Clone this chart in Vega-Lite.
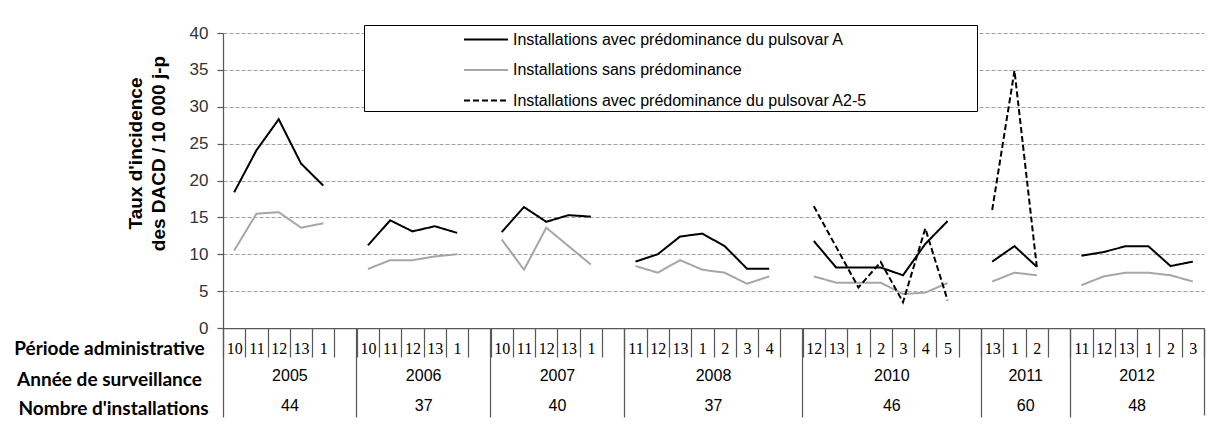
{
  "$schema": "https://vega.github.io/schema/vega-lite/v6.json",
  "width": 981,
  "height": 295,
  "autosize": {"type": "none"},
  "padding": {"left": 223, "top": 33, "right": 5, "bottom": 97},
  "background": "white",
  "config": {"view": {"stroke": null}, "font": "Liberation Sans"},
  "data": {"values": [
    {"i": 0, "annee": "2005", "serie": "Installations avec prédominance du pulsovar A", "taux": 18.4},
    {"i": 1, "annee": "2005", "serie": "Installations avec prédominance du pulsovar A", "taux": 24.1},
    {"i": 2, "annee": "2005", "serie": "Installations avec prédominance du pulsovar A", "taux": 28.3},
    {"i": 3, "annee": "2005", "serie": "Installations avec prédominance du pulsovar A", "taux": 22.3},
    {"i": 4, "annee": "2005", "serie": "Installations avec prédominance du pulsovar A", "taux": 19.3},
    {"i": 6, "annee": "2006", "serie": "Installations avec prédominance du pulsovar A", "taux": 11.2},
    {"i": 7, "annee": "2006", "serie": "Installations avec prédominance du pulsovar A", "taux": 14.6},
    {"i": 8, "annee": "2006", "serie": "Installations avec prédominance du pulsovar A", "taux": 13.1},
    {"i": 9, "annee": "2006", "serie": "Installations avec prédominance du pulsovar A", "taux": 13.8},
    {"i": 10, "annee": "2006", "serie": "Installations avec prédominance du pulsovar A", "taux": 12.9},
    {"i": 12, "annee": "2007", "serie": "Installations avec prédominance du pulsovar A", "taux": 13.0},
    {"i": 13, "annee": "2007", "serie": "Installations avec prédominance du pulsovar A", "taux": 16.4},
    {"i": 14, "annee": "2007", "serie": "Installations avec prédominance du pulsovar A", "taux": 14.4},
    {"i": 15, "annee": "2007", "serie": "Installations avec prédominance du pulsovar A", "taux": 15.3},
    {"i": 16, "annee": "2007", "serie": "Installations avec prédominance du pulsovar A", "taux": 15.1},
    {"i": 18, "annee": "2008", "serie": "Installations avec prédominance du pulsovar A", "taux": 9.0},
    {"i": 19, "annee": "2008", "serie": "Installations avec prédominance du pulsovar A", "taux": 10.0},
    {"i": 20, "annee": "2008", "serie": "Installations avec prédominance du pulsovar A", "taux": 12.4},
    {"i": 21, "annee": "2008", "serie": "Installations avec prédominance du pulsovar A", "taux": 12.8},
    {"i": 22, "annee": "2008", "serie": "Installations avec prédominance du pulsovar A", "taux": 11.1},
    {"i": 23, "annee": "2008", "serie": "Installations avec prédominance du pulsovar A", "taux": 8.05},
    {"i": 24, "annee": "2008", "serie": "Installations avec prédominance du pulsovar A", "taux": 8.05},
    {"i": 26, "annee": "2010", "serie": "Installations avec prédominance du pulsovar A", "taux": 11.8},
    {"i": 27, "annee": "2010", "serie": "Installations avec prédominance du pulsovar A", "taux": 8.2},
    {"i": 28, "annee": "2010", "serie": "Installations avec prédominance du pulsovar A", "taux": 8.2},
    {"i": 29, "annee": "2010", "serie": "Installations avec prédominance du pulsovar A", "taux": 8.2},
    {"i": 30, "annee": "2010", "serie": "Installations avec prédominance du pulsovar A", "taux": 7.15},
    {"i": 31, "annee": "2010", "serie": "Installations avec prédominance du pulsovar A", "taux": 11.4},
    {"i": 32, "annee": "2010", "serie": "Installations avec prédominance du pulsovar A", "taux": 14.5},
    {"i": 34, "annee": "2011", "serie": "Installations avec prédominance du pulsovar A", "taux": 9.0},
    {"i": 35, "annee": "2011", "serie": "Installations avec prédominance du pulsovar A", "taux": 11.1},
    {"i": 36, "annee": "2011", "serie": "Installations avec prédominance du pulsovar A", "taux": 8.3},
    {"i": 38, "annee": "2012", "serie": "Installations avec prédominance du pulsovar A", "taux": 9.8},
    {"i": 39, "annee": "2012", "serie": "Installations avec prédominance du pulsovar A", "taux": 10.3},
    {"i": 40, "annee": "2012", "serie": "Installations avec prédominance du pulsovar A", "taux": 11.1},
    {"i": 41, "annee": "2012", "serie": "Installations avec prédominance du pulsovar A", "taux": 11.1},
    {"i": 42, "annee": "2012", "serie": "Installations avec prédominance du pulsovar A", "taux": 8.4},
    {"i": 43, "annee": "2012", "serie": "Installations avec prédominance du pulsovar A", "taux": 9.0},
    {"i": 0, "annee": "2005", "serie": "Installations sans prédominance", "taux": 10.5},
    {"i": 1, "annee": "2005", "serie": "Installations sans prédominance", "taux": 15.5},
    {"i": 2, "annee": "2005", "serie": "Installations sans prédominance", "taux": 15.7},
    {"i": 3, "annee": "2005", "serie": "Installations sans prédominance", "taux": 13.6},
    {"i": 4, "annee": "2005", "serie": "Installations sans prédominance", "taux": 14.2},
    {"i": 6, "annee": "2006", "serie": "Installations sans prédominance", "taux": 8.0},
    {"i": 7, "annee": "2006", "serie": "Installations sans prédominance", "taux": 9.2},
    {"i": 8, "annee": "2006", "serie": "Installations sans prédominance", "taux": 9.2},
    {"i": 9, "annee": "2006", "serie": "Installations sans prédominance", "taux": 9.7},
    {"i": 10, "annee": "2006", "serie": "Installations sans prédominance", "taux": 10.0},
    {"i": 12, "annee": "2007", "serie": "Installations sans prédominance", "taux": 12.0},
    {"i": 13, "annee": "2007", "serie": "Installations sans prédominance", "taux": 7.9},
    {"i": 14, "annee": "2007", "serie": "Installations sans prédominance", "taux": 13.6},
    {"i": 15, "annee": "2007", "serie": "Installations sans prédominance", "taux": 11.1},
    {"i": 16, "annee": "2007", "serie": "Installations sans prédominance", "taux": 8.6},
    {"i": 18, "annee": "2008", "serie": "Installations sans prédominance", "taux": 8.4},
    {"i": 19, "annee": "2008", "serie": "Installations sans prédominance", "taux": 7.5},
    {"i": 20, "annee": "2008", "serie": "Installations sans prédominance", "taux": 9.2},
    {"i": 21, "annee": "2008", "serie": "Installations sans prédominance", "taux": 7.9},
    {"i": 22, "annee": "2008", "serie": "Installations sans prédominance", "taux": 7.5},
    {"i": 23, "annee": "2008", "serie": "Installations sans prédominance", "taux": 6.0},
    {"i": 24, "annee": "2008", "serie": "Installations sans prédominance", "taux": 7.0},
    {"i": 26, "annee": "2010", "serie": "Installations sans prédominance", "taux": 7.0},
    {"i": 27, "annee": "2010", "serie": "Installations sans prédominance", "taux": 6.15},
    {"i": 28, "annee": "2010", "serie": "Installations sans prédominance", "taux": 6.15},
    {"i": 29, "annee": "2010", "serie": "Installations sans prédominance", "taux": 6.15},
    {"i": 30, "annee": "2010", "serie": "Installations sans prédominance", "taux": 4.6},
    {"i": 31, "annee": "2010", "serie": "Installations sans prédominance", "taux": 4.8},
    {"i": 32, "annee": "2010", "serie": "Installations sans prédominance", "taux": 6.1},
    {"i": 34, "annee": "2011", "serie": "Installations sans prédominance", "taux": 6.3},
    {"i": 35, "annee": "2011", "serie": "Installations sans prédominance", "taux": 7.5},
    {"i": 36, "annee": "2011", "serie": "Installations sans prédominance", "taux": 7.15},
    {"i": 38, "annee": "2012", "serie": "Installations sans prédominance", "taux": 5.8},
    {"i": 39, "annee": "2012", "serie": "Installations sans prédominance", "taux": 7.0},
    {"i": 40, "annee": "2012", "serie": "Installations sans prédominance", "taux": 7.5},
    {"i": 41, "annee": "2012", "serie": "Installations sans prédominance", "taux": 7.5},
    {"i": 42, "annee": "2012", "serie": "Installations sans prédominance", "taux": 7.15},
    {"i": 43, "annee": "2012", "serie": "Installations sans prédominance", "taux": 6.3},
    {"i": 26, "annee": "2010", "serie": "Installations avec prédominance du pulsovar A2-5", "taux": 16.5},
    {"i": 27, "annee": "2010", "serie": "Installations avec prédominance du pulsovar A2-5", "taux": 11.0},
    {"i": 28, "annee": "2010", "serie": "Installations avec prédominance du pulsovar A2-5", "taux": 5.5},
    {"i": 29, "annee": "2010", "serie": "Installations avec prédominance du pulsovar A2-5", "taux": 8.95},
    {"i": 30, "annee": "2010", "serie": "Installations avec prédominance du pulsovar A2-5", "taux": 3.5},
    {"i": 31, "annee": "2010", "serie": "Installations avec prédominance du pulsovar A2-5", "taux": 13.5},
    {"i": 32, "annee": "2010", "serie": "Installations avec prédominance du pulsovar A2-5", "taux": 3.75},
    {"i": 34, "annee": "2011", "serie": "Installations avec prédominance du pulsovar A2-5", "taux": 16.0},
    {"i": 35, "annee": "2011", "serie": "Installations avec prédominance du pulsovar A2-5", "taux": 34.9},
    {"i": 36, "annee": "2011", "serie": "Installations avec prédominance du pulsovar A2-5", "taux": 8.3}
  ]},
  "layer": [
    {
      "mark": {"type": "line", "strokeWidth": 2},
      "encoding": {
        "x": {
          "field": "i", "type": "ordinal", "bandPosition": 0.5,
          "scale": {"type": "band", "domain": [0,1,2,3,4,5,6,7,8,9,10,11,12,13,14,15,16,17,18,19,20,21,22,23,24,25,26,27,28,29,30,31,32,33,34,35,36,37,38,39,40,41,42,43], "paddingInner": 0, "paddingOuter": 0},
          "axis": {
            "orient": "bottom",
            "tickBand": "extent", "tickSize": 29, "tickColor": "#595959", "tickWidth": 1.25,
            "domainColor": "#595959", "domainWidth": 1.25, "grid": false,
            "labelExpr": "['10','11','12','13','1','','10','11','12','13','1','','10','11','12','13','1','','11','12','13','1','2','3','4','','12','13','1','2','3','4','5','','13','1','2','','11','12','13','1','2','3'][datum.value]",
            "labelAngle": 0, "labelFont": "Liberation Sans Narrow", "labelFontSize": 16, "labelColor": "#000",
            "labelBaseline": "middle", "labelPadding": -9, "labelOverlap": false,
            "title": "Période administrative", "titleX": -114, "titleY": 20, "titleAlign": "center", "titleBaseline": "middle",
            "titleFont": "Lato", "titleFontSize": 19, "titleFontWeight": "bold", "titleColor": "#000"
          }
        },
        "y": {
          "field": "taux", "type": "quantitative",
          "scale": {"domain": [0, 40], "nice": false},
          "axis": {
            "values": [0,5,10,15,20,25,30,35,40],
            "grid": true, "gridColor": "#a0a0a0", "gridDash": [4, 2], "gridWidth": 1,
            "domainColor": "#595959", "domainWidth": 1.25, "tickColor": "#595959", "tickWidth": 1.25, "tickSize": 6,
            "labelFontSize": 17, "labelColor": "#333333", "labelPadding": 9, "labelFont": "Liberation Sans",
            "title": ["Taux d'incidence", "des DACD / 10 000 j-p"],
            "titleFont": "Liberation Sans", "titleFontSize": 19, "titleFontWeight": "bold", "titleColor": "#000",
            "titleX": -88, "titleY": 120, "titleAngle": 270, "titleAlign": "center", "titleBaseline": "middle", "titleLineHeight": 23
          }
        },
        "color": {
          "field": "serie", "type": "nominal",
          "scale": {"domain": ["Installations avec prédominance du pulsovar A", "Installations sans prédominance", "Installations avec prédominance du pulsovar A2-5"], "range": ["#000000", "#a6a6a6", "#000000"]},
          "legend": {
            "title": ".", "titleOrient": "right", "titlePadding": 103, "titleOpacity": 0, "titleFontSize": 16,
            "orient": "none", "legendX": 141, "legendY": -8,
            "padding": 2.5, "rowPadding": 10.5, "strokeColor": "#000000", "fillColor": "#ffffff",
            "symbolType": "M-2,0H2", "symbolSize": 484, "symbolStrokeWidth": 2, "symbolOffset": 107.5,
            "labelOffset": 15, "labelFontSize": 16, "labelFont": "Liberation Sans", "labelColor": "#000", "labelLimit": 0
          }
        },
        "strokeDash": {
          "field": "serie", "type": "nominal",
          "scale": {"domain": ["Installations avec prédominance du pulsovar A", "Installations sans prédominance", "Installations avec prédominance du pulsovar A2-5"], "range": [[1, 0], [1, 0], [6, 3]]},
          "legend": {
            "title": ".", "titleOrient": "right", "titlePadding": 103, "titleOpacity": 0, "titleFontSize": 16,
            "orient": "none", "legendX": 141, "legendY": -8,
            "padding": 2.5, "rowPadding": 10.5, "strokeColor": "#000000", "fillColor": "#ffffff",
            "symbolType": "M-2,0H2", "symbolSize": 484, "symbolStrokeWidth": 2, "symbolOffset": 107.5,
            "labelOffset": 15, "labelFontSize": 16, "labelFont": "Liberation Sans", "labelColor": "#000", "labelLimit": 0
          }
        },
        "detail": {"field": "annee", "type": "nominal"}
      }
    },
    {
      "mark": {"type": "point", "opacity": 0},
      "encoding": {
        "x": {
          "field": "i", "type": "ordinal",
          "scale": {"type": "band", "domain": [0,1,2,3,4,5,6,7,8,9,10,11,12,13,14,15,16,17,18,19,20,21,22,23,24,25,26,27,28,29,30,31,32,33,34,35,36,37,38,39,40,41,42,43], "paddingInner": 0, "paddingOuter": 0},
          "axis": {"orient": "bottom", "values": [0, 6, 12, 18, 26, 34, 38], "bandPosition": 0, "tickSize": 89, "tickColor": "#595959", "tickWidth": 1.25, "labels": false, "domain": false, "grid": false, "title": null}
        }
      }
    },
    {
      "mark": {"type": "point", "opacity": 0},
      "encoding": {
        "x": {
          "field": "i", "type": "ordinal",
          "scale": {"type": "band", "domain": [0,1,2,3,4,5,6,7,8,9,10,11,12,13,14,15,16,17,18,19,20,21,22,23,24,25,26,27,28,29,30,31,32,33,34,35,36,37,38,39,40,41,42,43], "paddingInner": 0, "paddingOuter": 0},
          "axis": {"orient": "bottom", "values": [43], "bandPosition": 1, "tickSize": 87, "tickColor": "#595959", "tickWidth": 1.25, "labels": false, "domain": false, "grid": false, "title": null}
        }
      }
    },
    {
      "mark": {"type": "point", "opacity": 0},
      "encoding": {
        "x": {
          "field": "i", "type": "ordinal",
          "scale": {"type": "band", "domain": [0,1,2,3,4,5,6,7,8,9,10,11,12,13,14,15,16,17,18,19,20,21,22,23,24,25,26,27,28,29,30,31,32,33,34,35,36,37,38,39,40,41,42,43], "paddingInner": 0, "paddingOuter": 0},
          "axis": {
            "orient": "bottom",
            "values": [2, 8, 14, 21, 29, 35, 40], "ticks": false, "tickSize": 0, "domain": false, "grid": false,
            "labelExpr": "datum.value == 2 ? '2005' : datum.value == 8 ? '2006' : datum.value == 14 ? '2007' : datum.value == 21 ? '2008' : datum.value == 29 ? '2010' : datum.value == 35 ? '2011' : '2012'",
            "labelOffset": 11.15, "labelPadding": 47, "labelBaseline": "middle", "labelAngle": 0, "labelOverlap": false,
            "labelFontSize": 16, "labelFont": "Liberation Sans", "labelColor": "#000",
            "title": "Année de surveillance", "titleX": -114, "titleY": 51, "titleAlign": "center", "titleBaseline": "middle",
            "titleFont": "Lato", "titleFontSize": 19, "titleFontWeight": "bold", "titleColor": "#000"
          }
        }
      }
    },
    {
      "mark": {"type": "point", "opacity": 0},
      "encoding": {
        "x": {
          "field": "i", "type": "ordinal",
          "scale": {"type": "band", "domain": [0,1,2,3,4,5,6,7,8,9,10,11,12,13,14,15,16,17,18,19,20,21,22,23,24,25,26,27,28,29,30,31,32,33,34,35,36,37,38,39,40,41,42,43], "paddingInner": 0, "paddingOuter": 0},
          "axis": {
            "orient": "bottom",
            "values": [2, 8, 14, 21, 29, 35, 40], "ticks": false, "tickSize": 0, "domain": false, "grid": false,
            "labelExpr": "datum.value == 2 ? '44' : datum.value == 8 ? '37' : datum.value == 14 ? '40' : datum.value == 21 ? '37' : datum.value == 29 ? '46' : datum.value == 35 ? '60' : '48'",
            "labelOffset": 11.15, "labelPadding": 77, "labelBaseline": "middle", "labelAngle": 0, "labelOverlap": false,
            "labelFontSize": 16, "labelFont": "Liberation Sans", "labelColor": "#000",
            "title": "Nombre d'installations", "titleX": -110, "titleY": 80, "titleAlign": "center", "titleBaseline": "middle",
            "titleFont": "Lato", "titleFontSize": 19, "titleFontWeight": "bold", "titleColor": "#000"
          }
        }
      }
    }
  ],
  "resolve": {"axis": {"x": "independent"}}
}
